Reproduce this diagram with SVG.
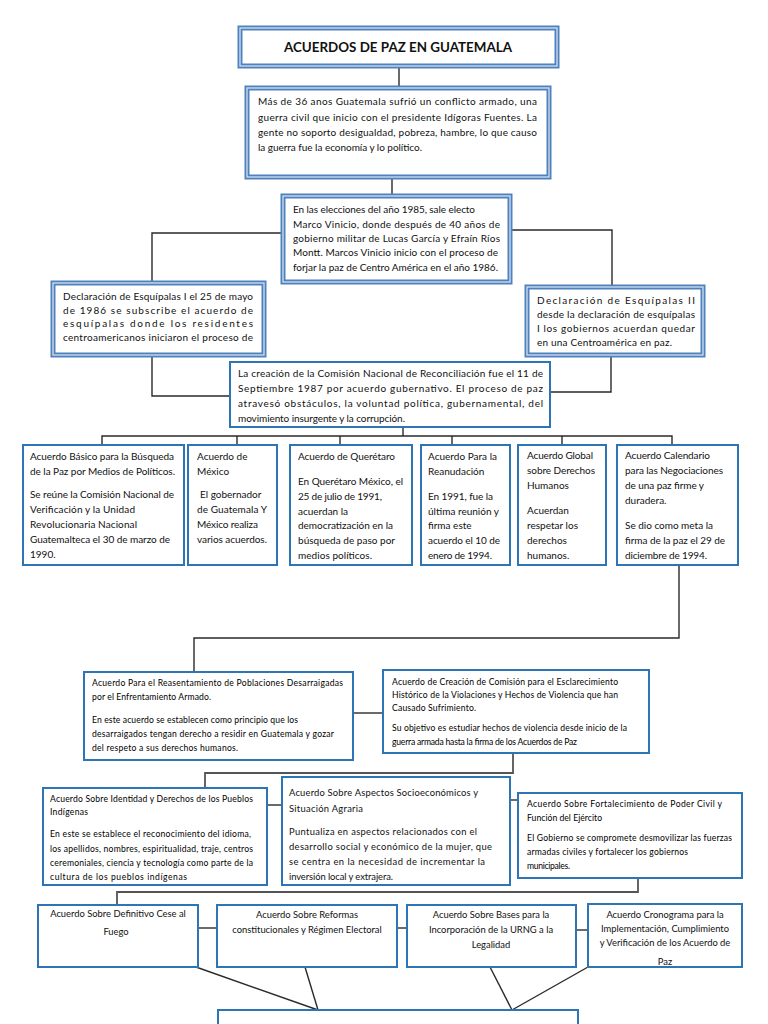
<svg xmlns="http://www.w3.org/2000/svg" width="768" height="1024" viewBox="0 0 768 1024">
<style>
.bg{fill:#ffffff}
.dbl{fill:#ffffff;stroke:#4F81BD;stroke-width:5}
.dbl2{fill:none;stroke:#C9D9EE;stroke-width:1.4}
.box{fill:#ffffff;stroke:#2E75B6;stroke-width:2}
.t{font-family:Lato,"Liberation Sans",sans-serif;font-size:10px;fill:#111}
.s{font-size:8.6px;fill:#000}
.m{font-size:9.4px}
.h{font-family:Lato,"Liberation Sans",sans-serif;font-size:13px;font-weight:bold;fill:#111}
.c{text-anchor:middle}
.ln{stroke:#2a2a2a;stroke-width:1.4;fill:none}
.ln2{stroke:#555;stroke-width:1.8;fill:none}
</style>
<defs>
<clipPath id="clipO"><rect x="588" y="904" width="154" height="62"/></clipPath>
</defs>
<rect class="bg" x="0" y="0" width="768" height="1024"/>

<g id="connectors">
<path class="ln" d="M399,66 V88"/>
<path class="ln" d="M392,177 V196"/>
<path class="ln" d="M283,233 H152 V283"/>
<path class="ln" d="M510,230 H612 V287"/>
<path class="ln" d="M152,355 V396 H230"/>
<path class="ln" d="M611,355 V392 H550"/>
<path class="ln" d="M403,427 V436"/>
<path class="ln" d="M102,445 V436 H672 V445"/>
<path class="ln" d="M237,436 V445"/>
<path class="ln" d="M340,436 V445"/>
<path class="ln" d="M452,436 V445"/>
<path class="ln" d="M562,436 V445"/>
<path class="ln" d="M679,565 V638 H194 V672"/>
<path class="ln" d="M353,713 H383"/>
<path class="ln2" d="M513,753 V773 H205 V788"/>
<path class="ln" d="M267,805 H282"/>
<path class="ln" d="M510,800 H518"/>
<path class="ln2" d="M638,878 V892 H117 V905"/>
<path class="ln" d="M198,928 H217"/>
<path class="ln" d="M397,928 H407"/>
<path class="ln" d="M576,930 H588"/>
<path class="ln" d="M196,967 L318,1010"/>
<path class="ln" d="M305,967 L318,1010"/>
<path class="ln" d="M490,967 L512,1010"/>
<path class="ln" d="M588,967 L512,1010"/>
</g>

<g id="n-title">
<rect class="dbl" x="240" y="28" width="317" height="38"/>
<rect class="dbl2" x="240" y="28" width="317" height="38"/>
<text class="h c" x="398" y="52" textLength="228" lengthAdjust="spacingAndGlyphs">ACUERDOS DE PAZ EN GUATEMALA</text>
</g>

<g id="n-conflicto">
<rect class="dbl" x="247" y="88" width="302" height="89"/>
<rect class="dbl2" x="247" y="88" width="302" height="89"/>
<text class="t" x="258" y="105" textLength="279" lengthAdjust="spacing">Más de 36 anos Guatemala sufrió un conflicto armado, una</text>
<text class="t" x="258" y="121" textLength="279" lengthAdjust="spacing">guerra civil que inicio con el presidente Idígoras Fuentes. La</text>
<text class="t" x="258" y="136" textLength="279" lengthAdjust="spacing">gente no soporto desigualdad, pobreza, hambre, lo que causo</text>
<text class="t" x="258" y="151" textLength="164" lengthAdjust="spacing">la guerra fue la economía y lo político.</text>
</g>

<g id="n-elecciones">
<rect class="dbl" x="283" y="196" width="227" height="86"/>
<rect class="dbl2" x="283" y="196" width="227" height="86"/>
<text class="t" x="293" y="213" textLength="182" lengthAdjust="spacing">En las elecciones del año 1985, sale electo</text>
<text class="t" x="293" y="228" textLength="207" lengthAdjust="spacing">Marco Vinicio, donde después de 40 años de</text>
<text class="t" x="293" y="242" textLength="207" lengthAdjust="spacing">gobierno militar de  Lucas García y Efraín Ríos</text>
<text class="t" x="293" y="256" textLength="205" lengthAdjust="spacing">Montt.  Marcos Vinicio inicio con el proceso de</text>
<text class="t" x="293" y="271" textLength="205" lengthAdjust="spacing">forjar la paz de Centro América en el año 1986.</text>
</g>

<g id="n-esquipulas1">
<rect class="dbl" x="53" y="283" width="211" height="72"/>
<rect class="dbl2" x="53" y="283" width="211" height="72"/>
<text class="t" x="63" y="300" textLength="190" lengthAdjust="spacing">Declaración de Esquípalas I el 25 de mayo</text>
<text class="t" x="63" y="314" textLength="190" lengthAdjust="spacing">de 1986 se subscribe el acuerdo de</text>
<text class="t" x="63" y="327" textLength="190" lengthAdjust="spacing">esquípalas donde los residentes</text>
<text class="t" x="63" y="341" textLength="190" lengthAdjust="spacing">centroamericanos iniciaron el proceso de</text>
</g>

<g id="n-esquipulas2">
<rect class="dbl" x="527" y="287" width="176" height="68"/>
<rect class="dbl2" x="527" y="287" width="176" height="68"/>
<text class="t" x="537" y="304" textLength="158" lengthAdjust="spacing">Declaración de Esquípalas II</text>
<text class="t" x="537" y="318" textLength="158" lengthAdjust="spacing">desde la declaración de esquípalas</text>
<text class="t" x="537" y="332" textLength="158" lengthAdjust="spacing">I los gobiernos acuerdan quedar</text>
<text class="t" x="537" y="346" textLength="135" lengthAdjust="spacing">en una Centroamérica en paz.</text>
</g>

<g id="n-comision">
<rect class="box" x="230" y="362" width="320" height="65"/>
<text class="t" x="238" y="377" textLength="305" lengthAdjust="spacing">La creación de la Comisión Nacional de Reconciliación fue el 11 de</text>
<text class="t" x="238" y="392" textLength="305" lengthAdjust="spacing">Septiembre 1987 por acuerdo gubernativo. El proceso de paz</text>
<text class="t" x="238" y="407" textLength="305" lengthAdjust="spacing">atravesó obstáculos, la voluntad política, gubernamental, del</text>
<text class="t" x="238" y="422" textLength="167" lengthAdjust="spacing">movimiento insurgente y la corrupción.</text>
</g>

<g id="n-basico">
<rect class="box" x="23" y="445" width="161" height="120"/>
<text class="t" x="30" y="460" textLength="144" lengthAdjust="spacing">Acuerdo Básico para la Búsqueda</text>
<text class="t" x="30" y="475" textLength="145" lengthAdjust="spacing">de la Paz por Medios de Políticos.</text>
<text class="t" x="30" y="498" textLength="144" lengthAdjust="spacing">Se reúne la Comisión Nacional de</text>
<text class="t" x="30" y="513" textLength="105" lengthAdjust="spacing">Verificación  y la Unidad</text>
<text class="t" x="30" y="528" textLength="107" lengthAdjust="spacing">Revolucionaria  Nacional</text>
<text class="t" x="30" y="543" textLength="140" lengthAdjust="spacing">Guatemalteca el 30 de marzo de</text>
<text class="t" x="30" y="558">1990.</text>
</g>

<g id="n-mexico">
<rect class="box" x="188" y="445" width="89" height="120"/>
<text class="t" x="197" y="460">Acuerdo de</text>
<text class="t" x="197" y="475">México</text>
<text class="t" x="200" y="498">El gobernador</text>
<text class="t" x="197" y="513" textLength="70" lengthAdjust="spacing">de Guatemala  Y</text>
<text class="t" x="197" y="528" textLength="61" lengthAdjust="spacing">México realiza</text>
<text class="t" x="197" y="543" textLength="70" lengthAdjust="spacing">varios acuerdos.</text>
</g>

<g id="n-queretaro">
<rect class="box" x="290" y="445" width="122" height="120"/>
<text class="t" x="298" y="460" textLength="97" lengthAdjust="spacing">Acuerdo de Querétaro</text>
<text class="t" x="298" y="485" textLength="105" lengthAdjust="spacing">En Querétaro México, el</text>
<text class="t" x="298" y="500" textLength="84" lengthAdjust="spacing">25 de julio de 1991,</text>
<text class="t" x="298" y="515">acuerdan la</text>
<text class="t" x="298" y="529" textLength="95" lengthAdjust="spacing">democratización en la</text>
<text class="t" x="298" y="544" textLength="97" lengthAdjust="spacing">búsqueda de paso por</text>
<text class="t" x="298" y="559" textLength="74" lengthAdjust="spacing">medios políticos.</text>
</g>

<g id="n-reanudacion">
<rect class="box" x="421" y="445" width="89" height="120"/>
<text class="t" x="428" y="460" textLength="69" lengthAdjust="spacing">Acuerdo Para la</text>
<text class="t" x="428" y="475">Reanudación</text>
<text class="t" x="428" y="500" textLength="65" lengthAdjust="spacing">En 1991, fue la</text>
<text class="t" x="428" y="515" textLength="71" lengthAdjust="spacing">última reunión y</text>
<text class="t" x="428" y="529">firma este</text>
<text class="t" x="428" y="544" textLength="72" lengthAdjust="spacing">acuerdo el 10 de</text>
<text class="t" x="428" y="559" textLength="64" lengthAdjust="spacing">enero de 1994.</text>
</g>

<g id="n-derechos">
<rect class="box" x="518" y="445" width="88" height="120"/>
<text class="t" x="527" y="459" textLength="66" lengthAdjust="spacing">Acuerdo Global</text>
<text class="t" x="527" y="474" textLength="68" lengthAdjust="spacing">sobre Derechos</text>
<text class="t" x="527" y="489">Humanos</text>
<text class="t" x="527" y="514">Acuerdan</text>
<text class="t" x="527" y="529" textLength="51" lengthAdjust="spacing">respetar los</text>
<text class="t" x="527" y="544">derechos</text>
<text class="t" x="527" y="559">humanos.</text>
</g>

<g id="n-calendario">
<rect class="box" x="617" y="445" width="121" height="120"/>
<text class="t" x="625" y="459" textLength="85" lengthAdjust="spacing">Acuerdo Calendario</text>
<text class="t" x="625" y="474" textLength="98" lengthAdjust="spacing">para las Negociaciones</text>
<text class="t" x="625" y="489" textLength="79" lengthAdjust="spacing">de una paz firme y</text>
<text class="t" x="625" y="504">duradera.</text>
<text class="t" x="625" y="529" textLength="88" lengthAdjust="spacing">Se dio como meta la</text>
<text class="t" x="625" y="544" textLength="100" lengthAdjust="spacing">firma de la paz el 29 de</text>
<text class="t" x="625" y="559" textLength="82" lengthAdjust="spacing">diciembre de 1994.</text>
</g>

<g id="n-reasentamiento">
<rect class="box" x="84" y="672" width="269" height="88"/>
<text class="t s" x="92" y="686" textLength="251" lengthAdjust="spacing">Acuerdo Para el Reasentamiento de Poblaciones Desarraigadas</text>
<text class="t s" x="92" y="700" textLength="119" lengthAdjust="spacing">por el Enfrentamiento Armado.</text>
<text class="t s" x="92" y="723" textLength="206" lengthAdjust="spacing">En este acuerdo se establecen como principio que los</text>
<text class="t s" x="92" y="737" textLength="242" lengthAdjust="spacing">desarraigados tengan derecho a residir en Guatemala y gozar</text>
<text class="t s" x="92" y="751" textLength="146" lengthAdjust="spacing">del respeto a sus derechos humanos.</text>
</g>

<g id="n-esclarecimiento">
<rect class="box" x="383" y="670" width="266" height="83"/>
<text class="t s" x="392" y="685" textLength="226" lengthAdjust="spacing">Acuerdo de Creación de Comisión para el Esclarecimiento</text>
<text class="t s" x="392" y="698" textLength="226" lengthAdjust="spacing">Histórico de la Violaciones y Hechos de Violencia que han</text>
<text class="t s" x="392" y="711" textLength="84" lengthAdjust="spacing">Causado Sufrimiento.</text>
<text class="t s" x="392" y="731" textLength="235" lengthAdjust="spacing">Su objetivo es estudiar hechos de violencia desde inicio de la</text>
<text class="t s" x="392" y="745" textLength="185" lengthAdjust="spacing">guerra armada hasta la firma de los Acuerdos de Paz</text>
</g>

<g id="n-identidad">
<rect class="box" x="43" y="788" width="224" height="97"/>
<text class="t s" x="50" y="802" textLength="203" lengthAdjust="spacing">Acuerdo Sobre Identidad y Derechos de los Pueblos</text>
<text class="t s" x="50" y="815" textLength="38" lengthAdjust="spacing">Indígenas</text>
<text class="t s" x="50" y="837" textLength="201" lengthAdjust="spacing">En este se establece el reconocimiento del idioma,</text>
<text class="t s" x="50" y="852" textLength="203" lengthAdjust="spacing">los apellidos, nombres, espiritualidad, traje, centros</text>
<text class="t s" x="50" y="866" textLength="203" lengthAdjust="spacing">ceremoniales, ciencia y tecnología como parte de la</text>
<text class="t s" x="50" y="880" textLength="137" lengthAdjust="spacing">cultura de los pueblos indígenas</text>
</g>

<g id="n-socioeconomicos">
<rect class="box" x="282" y="777" width="228" height="108"/>
<text class="t m" x="289" y="796" textLength="189" lengthAdjust="spacing">Acuerdo Sobre Aspectos Socioeconómicos y</text>
<text class="t m" x="289" y="812" textLength="74" lengthAdjust="spacing">Situación Agraria</text>
<text class="t m" x="289" y="835" textLength="188" lengthAdjust="spacing">Puntualiza en aspectos relacionados con el</text>
<text class="t m" x="289" y="850" textLength="203" lengthAdjust="spacing">desarrollo social y económico de la mujer, que</text>
<text class="t m" x="289" y="865" textLength="196" lengthAdjust="spacing">se centra en la necesidad de incrementar la</text>
<text class="t m" x="289" y="880" textLength="104" lengthAdjust="spacing">inversión local y extrajera.</text>
</g>

<g id="n-poder-civil">
<rect class="box" x="518" y="793" width="224" height="85"/>
<text class="t s" x="527" y="807" textLength="195" lengthAdjust="spacing">Acuerdo  Sobre Fortalecimiento de Poder Civil y</text>
<text class="t s" x="527" y="821" textLength="75" lengthAdjust="spacing">Función del Ejército</text>
<text class="t s" x="527" y="841" textLength="205" lengthAdjust="spacing">El Gobierno se compromete desmovilizar las fuerzas</text>
<text class="t s" x="527" y="855" textLength="161" lengthAdjust="spacing">armadas civiles y fortalecer los gobiernos</text>
<text class="t s" x="527" y="869" textLength="43" lengthAdjust="spacing">municipales.</text>
</g>

<g id="n-cese-fuego">
<rect class="box" x="38" y="905" width="160" height="62"/>
<text class="t m c" x="118" y="917">Acuerdo Sobre Definitivo Cese al</text>
<text class="t m c" x="116" y="935">Fuego</text>
</g>

<g id="n-reformas">
<rect class="box" x="217" y="905" width="180" height="62"/>
<text class="t m c" x="307" y="918">Acuerdo Sobre Reformas</text>
<text class="t m c" x="307" y="933">constitucionales y Régimen Electoral</text>
</g>

<g id="n-urng">
<rect class="box" x="407" y="905" width="169" height="62"/>
<text class="t m c" x="491" y="918">Acuerdo Sobre Bases para la</text>
<text class="t m c" x="491" y="933">Incorporación de la URNG a la</text>
<text class="t m c" x="491" y="948">Legalidad</text>
</g>

<g id="n-cronograma">
<rect class="box" x="588" y="904" width="154" height="63"/>
<g clip-path="url(#clipO)">
<text class="t m c" x="665" y="918">Acuerdo Cronograma para la</text>
<text class="t m c" x="665" y="932">Implementación, Cumplimiento</text>
<text class="t m c" x="665" y="946">y Verificación de los Acuerdo de</text>
<text class="t m c" x="665" y="965">Paz</text>
</g>
</g>

<g id="n-final">
<rect class="box" x="218" y="1010" width="360" height="30"/>
</g>
</svg>
